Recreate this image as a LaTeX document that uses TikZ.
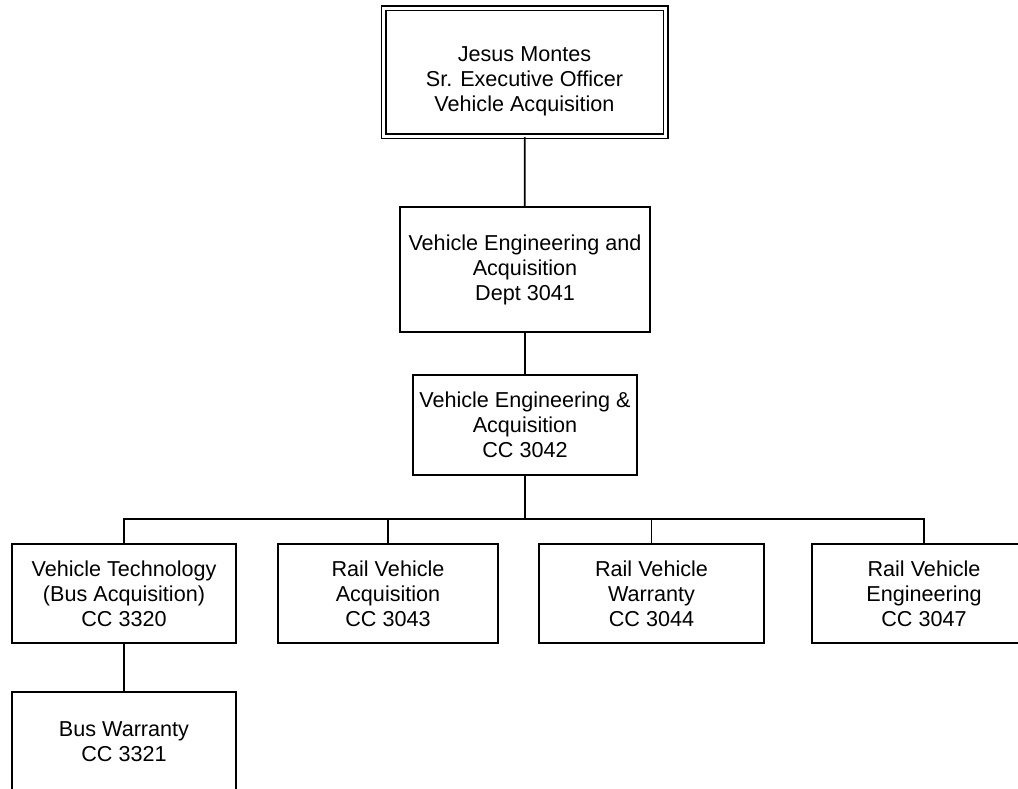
\documentclass[tikz,border=0pt]{standalone}
\usepackage{fontspec}
\setmainfont{Liberation Sans}
\begin{document}
\begin{tikzpicture}[x=1pt,y=-1pt,
  every node/.style={font=\fontsize{21.6}{25}\selectfont},
  orgbox/.style={draw, line width=1.8pt, rectangle, inner sep=0pt, align=center,
    minimum width=224pt, minimum height=100pt},
  link/.style={line width=1.8pt}]
\useasboundingbox (0,0) rectangle (1018,789);
\node[orgbox, double, line width=1.5pt, double distance=3pt, minimum width=282pt, minimum height=128pt,
  label={[align=center, yshift=-9pt, font=\fontsize{21.6}{25}\selectfont]center:Jesus Montes\\Sr. Executive Officer\\Vehicle Acquisition}]
  (top) at (524.5,72.5) {};
\node[orgbox, minimum width=250pt, minimum height=125pt] (dept) at (525,269.5)
  {Vehicle Engineering and\\Acquisition\\Dept 3041};
\node[orgbox, minimum width=224pt, minimum height=100pt] (cc42) at (525,425)
  {Vehicle Engineering \&\\Acquisition\\CC 3042};
\node[orgbox, minimum height=99pt] (b1) at (124,593.5) {Vehicle Technology\\(Bus Acquisition)\\CC 3320};
\node[orgbox, minimum width=220pt, minimum height=99pt] (b2) at (388,593.5) {Rail Vehicle\\Acquisition\\CC 3043};
\node[orgbox, minimum width=225pt, minimum height=99pt] (b3) at (651.5,593.5) {Rail Vehicle\\Warranty\\CC 3044};
\node[orgbox, minimum height=99pt] (b4) at (924,593.5) {Rail Vehicle\\Engineering\\CC 3047};
\node[orgbox] (bw) at (124,742) {Bus Warranty\\CC 3321};
\coordinate (bus) at (525,519);
\draw[link] (top) -- (dept);
\draw[link] (dept) -- (cc42);
\draw[link] (cc42) -- (bus);
\draw[link] (b1.north) |- (bus) -| (b4.north);
\draw[link] (b2.north) -- (b2.north |- bus);
\draw[link] (b3.north) -- (b3.north |- bus);
\draw[link] (b1) -- (bw);
\end{tikzpicture}
\end{document}
